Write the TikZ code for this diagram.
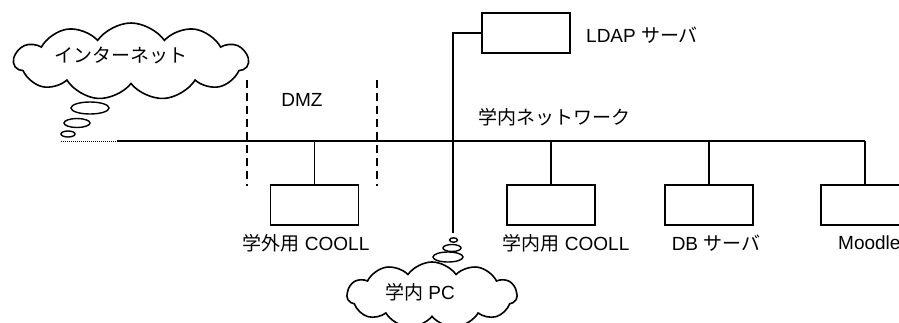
\documentclass[tikz,border=0pt]{standalone}
\usepackage{fontspec}
\setmainfont{Liberation Sans}
\newfontfamily\jp{Noto Sans CJK JP}
\usetikzlibrary{shapes.symbols}
\begin{document}
\begin{tikzpicture}[x=1pt,y=-1pt,
  every node/.style={font=\fontsize{19}{22}\selectfont},
  box/.style={draw, line width=1.6pt, minimum width=88pt, minimum height=40pt, inner sep=0pt},
  wire/.style={line width=1.6pt},
  lbl/.style={inner sep=0pt},
  cld/.style={cloud, draw, line width=1.6pt, cloud puffs=11, cloud puff arc=110, inner sep=0pt},
  bub/.style={line width=1.4pt},
  zone/.style={line width=1.6pt, dash pattern=on 8pt off 5pt}]
\useasboundingbox (0,0) rectangle (899,322);
% clouds
\node[cld, minimum width=234pt, minimum height=77pt, aspect=3.04] (inet) at (131,61.5) {};
\node[lbl] (inettxt) at (121,55) {\jp インターネット};
\node[cld, minimum width=170pt, minimum height=66pt, aspect=2.6] (pc) at (432,295) {};
\node[lbl] (pctxt) at (420,292) {{\jp 学内} PC};
% thought bubbles
\draw[bub] (90,108) ellipse (19 and 6);
\draw[bub] (77,123) ellipse (13 and 4.5);
\draw[bub] (68,134) ellipse (7 and 3);
\draw[bub] (448,257) ellipse (15 and 5);
\draw[bub] (452,248) ellipse (9 and 3.5);
\draw[bub] (453.5,240) ellipse (4 and 2.2);
% boxes
\node[box] (ldap) at (526,32.7) {};
\node[box] (gai) at (314.3,205) {};
\node[box] (nai) at (551,205) {};
\node[box] (db) at (709,205) {};
\node[box] (moodle) at (865,205) {};
% bus
\coordinate (dot0) at (61,141);
\coordinate (busL) at (117,141);
\coordinate (busR) at (865,141);
\coordinate (t1) at (314.3,141);
\coordinate (t3) at (551,141);
\coordinate (t4) at (709,141);
\coordinate (pcend) at (453,233);
\draw[line width=1pt, dash pattern=on 1pt off 1pt] (dot0) -- (busL);
\draw[wire] (busL) -- (busR);
\draw[wire] (t1) -- (gai.north);
\draw[wire] (t3) -- (nai.north);
\draw[wire] (t4) -- (db.north);
\draw[wire] (busR) -- (moodle.north);
\draw[wire] (ldap.west) -| (pcend);
% DMZ zone
\coordinate (z1a) at (246.7,80);
\coordinate (z1b) at (246.7,186);
\coordinate (z2a) at (376.7,80);
\coordinate (z2b) at (376.7,186);
\draw[zone] (z1a) -- (z1b);
\draw[zone] (z2a) -- (z2b);
% labels
\node[lbl] (dmz) at (302,100) {DMZ};
\node[lbl] (net) at (554,117) {\jp 学内ネットワーク};
\node[lbl, anchor=west] (ldaptxt) at (586,35) {LDAP {\jp サーバ}};
\node[lbl] (gaitxt) at (306,243) {{\jp 学外用} COOLL};
\node[lbl] (naitxt) at (566,243) {{\jp 学内用} COOLL};
\node[lbl] (dbtxt) at (716,243) {DB {\jp サーバ}};
\node[lbl, anchor=west] (moodletxt) at (838,243) {Moodle};
\end{tikzpicture}
\end{document}
